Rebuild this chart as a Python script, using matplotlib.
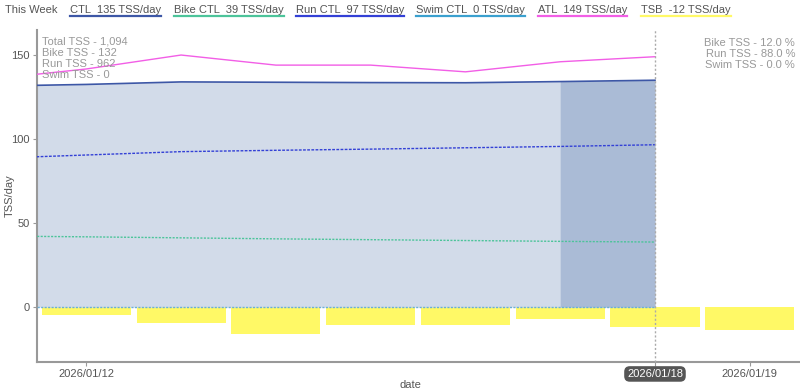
import datetime as dt
import matplotlib
matplotlib.use("Agg")
from matplotlib import pyplot as plt, dates as mdates
from matplotlib.lines import Line2D

plt.rcParams["font.family"] = ["Liberation Sans", "DejaVu Sans"]

# data
line_dates = [dt.date(2026, 1, d) for d in range(11, 19)]
ctl = [131.5, 132.5, 134.0, 133.8, 133.6, 133.5, 134.2, 135.0]
bike_ctl = [42.3, 41.8, 41.2, 40.6, 40.1, 39.6, 39.1, 38.7]
run_ctl = [88.5, 90.5, 92.5, 93.3, 94.0, 94.8, 95.6, 96.6]
swim_ctl = [0, 0, 0, 0, 0, 0, 0, 0]
atl = [135.7, 141.7, 150.0, 144.0, 144.0, 140.0, 146.0, 149.0]

tsb_dates = [dt.date(2026, 1, d) for d in range(12, 20)]
tsb = [-4.8, -9.3, -16.3, -10.9, -10.9, -7.3, -11.7, -13.7]

legend_labels = ["CTL  135 TSS/day", "Bike CTL  39 TSS/day", "Run CTL  97 TSS/day",
                 "Swim CTL  0 TSS/day", "ATL  149 TSS/day", "TSB  -12 TSS/day"]
left_notes = ["Total TSS - 1,094", "Bike TSS - 132", "Run TSS - 962", "Swim TSS - 0"]
right_notes = ["Bike TSS - 12.0 %", "Run TSS - 88.0 %", "Swim TSS - 0.0 %"]
today = dt.date(2026, 1, 18)

c_ctl = "#3d57a6"
c_bike = "#4cc49a"
c_run = "#3340d6"
c_swim = "#6aaed6"
c_atl = "#f25ee6"
c_tsb = "#fff966"
legend_colors = [c_ctl, c_bike, c_run, "#3aa0cf", c_atl, c_tsb]

FS = 8
W, H = 800, 391
fig = plt.figure(figsize=(8, 3.91), dpi=100)
ax = fig.add_axes([37 / W, 1 - 362 / H, (800 - 37) / W, (362 - 30) / H])

# TSB bars
ax.bar(tsb_dates, tsb, width=0.94, color=c_tsb, zorder=1)

# CTL area, last day darker
ax.fill_between(line_dates, 0, ctl, color="#d2dbe9", lw=0, zorder=2)
ax.fill_between(line_dates[-2:], 0, ctl[-2:], color="#aabbd6", lw=0, zorder=2)

ax.plot(line_dates, ctl, color=c_ctl, lw=1.2, zorder=4)
ax.plot(line_dates, bike_ctl, color=c_bike, lw=1, ls=(0, (1.5, 1)), zorder=4)
ax.plot(line_dates, run_ctl, color=c_run, lw=1, ls=(0, (2, 1)), zorder=4)
ax.plot(line_dates, swim_ctl, color=c_swim, lw=1, ls=(0, (1.5, 1)), zorder=4)
ax.plot(line_dates, atl, color=c_atl, lw=1, zorder=4)

ax.axvline(today, color="#aaaaaa", lw=1, ls=(0, (1.5, 1.5)), zorder=5, clip_on=False)

x0 = mdates.date2num(dt.date(2026, 1, 12)) - 0.52
ax.set_xlim(x0, x0 + 8.05)
ax.set_ylim(-32.7, 164.9)

ax.set_yticks([0, 50, 100, 150])
ax.set_xticks([dt.date(2026, 1, 12), today, dt.date(2026, 1, 19)])
ax.xaxis.set_major_formatter(mdates.DateFormatter("%Y/%m/%d"))
ax.tick_params(colors="#999999", labelcolor="#555555", labelsize=FS, length=3, pad=2)
for s in ["top", "right"]:
    ax.spines[s].set_visible(False)
for s in ["left", "bottom"]:
    ax.spines[s].set_color("#999999")
    ax.spines[s].set_linewidth(1.5)

for lbl in ax.get_xticklabels():
    if lbl.get_text() == "2026/01/18":
        lbl.set_color("white")
        lbl.set_bbox(dict(boxstyle="round,pad=0.25,rounding_size=0.5", fc="#555555", ec="none"))

ax.set_ylabel("TSS/day", color="#555555", fontsize=FS, va="center", ha="center")
ax.set_xlabel("date", color="#555555", fontsize=FS, va="center", ha="center")
ax.yaxis.set_label_coords(-27 / 763, 0.5)
ax.xaxis.set_label_coords((410 - 37) / 763, -23 / 332)

for i, t in enumerate(left_notes):
    fig.text(42 / W, 1 - (42 + 11 * i) / H, t, color="#999999", fontsize=FS, va="center")
for i, t in enumerate(right_notes):
    fig.text(795 / W, 1 - (43 + 11 * i) / H, t, color="#999999", fontsize=FS, va="center", ha="right")

# legend row
fig.text(5 / W, 1 - 10 / H, "This Week", color="#555555", fontsize=FS, va="center")
legend_x = [70, 174, 296, 416, 538, 641]
texts = []
for x, t in zip(legend_x, legend_labels):
    texts.append(fig.text(x / W, 1 - 10 / H, t, color="#555555", fontsize=FS, va="center"))
fig.canvas.draw()
r = fig.canvas.get_renderer()
for t, c in zip(texts, legend_colors):
    bb = t.get_window_extent(r)
    fig.add_artist(Line2D([bb.x0 / W, bb.x1 / W], [1 - 16 / H] * 2, color=c, lw=1.6,
                          transform=fig.transFigure))

fig.savefig("out.png", dpi=100)
